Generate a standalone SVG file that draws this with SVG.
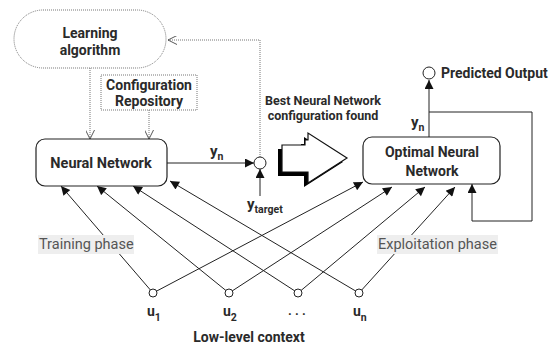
<svg xmlns="http://www.w3.org/2000/svg" width="554" height="347" viewBox="0 0 554 347">
<style>
text{font-family:Roboto,"Liberation Sans",sans-serif;fill:#2a2a2a}
.b{font-weight:bold}
.c{text-anchor:middle}
.box{fill:#fff;stroke:#222;stroke-width:1.2}
.dot{fill:none;stroke:#777;stroke-width:1;stroke-dasharray:1 1}
.ln{fill:none;stroke:#222;stroke-width:1}
.ph{font-size:14.5px;fill:#555}
.pbg{fill:#eee}
</style>
<defs>
<marker id="a" viewBox="0 0 10 10" refX="10" refY="5" markerWidth="11" markerHeight="9" orient="auto" markerUnits="userSpaceOnUse"><path d="M0,0L10,5L0,10z" fill="#111"/></marker>
<marker id="v" viewBox="0 0 10 10" refX="10" refY="5" markerWidth="10" markerHeight="9" orient="auto" markerUnits="userSpaceOnUse"><path d="M0,0L10,5L0,10" fill="none" stroke="#444" stroke-width="1"/></marker>
</defs>

<g id="connectors">
<path class="dot" d="M90,68V139" marker-end="url(#v)"/>
<path class="dot" d="M149,110V139" marker-end="url(#v)"/>
<path class="dot" d="M260,157V40H168" marker-end="url(#v)"/>
<path class="ln" d="M167,163H254" marker-end="url(#a)"/>
<path class="ln" d="M260,196V169" marker-end="url(#a)"/>
<path class="ln" d="M429,137V80" marker-end="url(#a)"/>
<path class="ln" d="M429,112H532V221H472V184" marker-end="url(#a)"/>
<path class="ln" d="M153,293L61,186" marker-end="url(#a)"/>
<path class="ln" d="M229,293L97,186" marker-end="url(#a)"/>
<path class="ln" d="M298,293L133,186" marker-end="url(#a)"/>
<path class="ln" d="M359,293L170,181" marker-end="url(#a)"/>
<path class="ln" d="M153,293L363,182" marker-end="url(#a)"/>
<path class="ln" d="M229,293L392,187" marker-end="url(#a)"/>
<path class="ln" d="M298,293L425,187" marker-end="url(#a)"/>
<path class="ln" d="M359,293L455,187" marker-end="url(#a)"/>
</g>

<g id="learning">
<rect x="14" y="10" width="152" height="58" rx="29" fill="#fff" stroke="#777" stroke-dasharray="1 1"/>
<text class="b c" x="90" y="38" font-size="14">Learning</text>
<text class="b c" x="90" y="55" font-size="14">algorithm</text>
</g>

<g id="config">
<rect x="101" y="75" width="96" height="35" fill="#fff" stroke="#777" stroke-dasharray="1 1"/>
<text class="b c" x="149" y="90" font-size="14">Configuration</text>
<text class="b c" x="149" y="106" font-size="14">Repository</text>
</g>

<g id="nn">
<rect class="box" x="36" y="139" width="131" height="47" rx="9"/>
<text class="b c" x="101" y="168" font-size="14.5">Neural Network</text>
</g>

<g id="compare">
<circle cx="260" cy="163" r="6" fill="#fff" stroke="#222"/>
<text class="b" x="210" y="156" font-size="15">y<tspan font-size="10.5" dy="4">n</tspan></text>
<text class="b" x="247" y="209" font-size="15">y<tspan font-size="10.5" dy="4">target</tspan></text>
</g>

<g id="best">
<text class="b c" x="323" y="105" font-size="12.5">Best Neural Network</text>
<text class="b c" x="323" y="120" font-size="12.5">configuration found</text>
<polygon points="278,149 301,149 301,144 304,144 304,137 343,162 304,187 304,176 278,176" fill="#000"/>
<polygon points="282,145 305,145 305,140 308,140 308,133 347,158 308,183 308,172 282,172" fill="#fff" stroke="#111" stroke-width="1.2"/>
</g>

<g id="opt">
<rect class="box" x="363" y="137" width="137" height="47" rx="9"/>
<text class="b c" x="432" y="157" font-size="14">Optimal Neural</text>
<text class="b c" x="432" y="176" font-size="14">Network</text>
<text class="b" x="411" y="127" font-size="15">y<tspan font-size="10.5" dy="4">n</tspan></text>
</g>

<g id="output">
<circle cx="429" cy="73" r="6" fill="#fff" stroke="#222"/>
<text class="b" x="441" y="78" font-size="14">Predicted Output</text>
</g>

<g id="training">
<rect class="pbg" x="38" y="235" width="96" height="19"/>
<text class="ph" x="39" y="249">Training phase</text>
</g>
<g id="exploitation">
<rect class="pbg" x="377" y="235" width="121" height="19"/>
<text class="ph" x="378" y="249">Exploitation phase</text>
</g>

<g id="inputs">
<circle cx="153" cy="293" r="4" fill="#fff" stroke="#222"/>
<circle cx="229" cy="293" r="4" fill="#fff" stroke="#222"/>
<circle cx="298" cy="293" r="4" fill="#fff" stroke="#222"/>
<circle cx="359" cy="293" r="4" fill="#fff" stroke="#222"/>
<text class="b" x="147" y="316" font-size="14">u<tspan font-size="10.5" dy="5">1</tspan></text>
<text class="b" x="223" y="316" font-size="14">u<tspan font-size="10.5" dy="5">2</tspan></text>
<text class="b c" x="297" y="315" font-size="13">. . .</text>
<text class="b" x="353" y="316" font-size="14">u<tspan font-size="10.5" dy="5">n</tspan></text>
<text class="b c" x="249" y="342" font-size="14">Low-level context</text>
</g>
</svg>
